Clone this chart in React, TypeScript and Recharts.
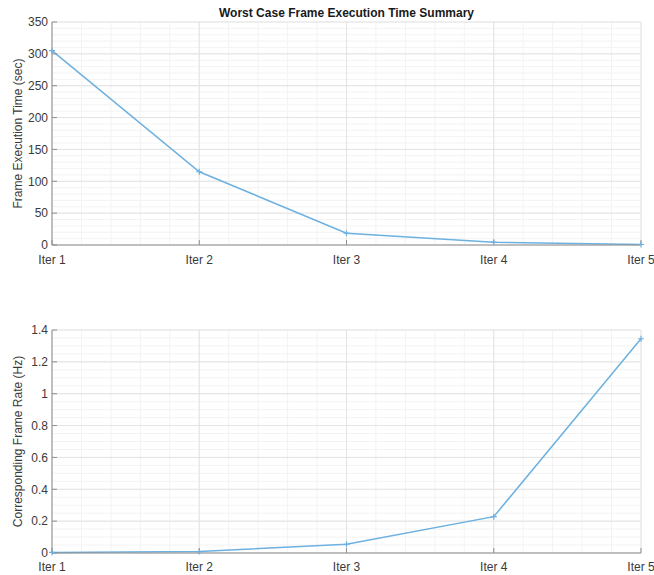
import { LineChart, Line, XAxis, YAxis, CartesianGrid } from 'recharts';

const iterations = [1, 2, 3, 4, 5];
const iterLabels = ['Iter 1', 'Iter 2', 'Iter 3', 'Iter 4', 'Iter 5'];
const execTime = [305, 115, 18.5, 4.4, 0.75];
const frameRate = [0.0033, 0.0087, 0.055, 0.228, 1.345];

const timeTicks = [0, 50, 100, 150, 200, 250, 300, 350];
const rateTicks = [0, 0.2, 0.4, 0.6, 0.8, 1, 1.2, 1.4];

const timeData = iterations.map((it, i) => ({ it, value: execTime[i] }));
const rateData = iterations.map((it, i) => ({ it, value: frameRate[i] }));

// minor grid positions
const xMinor: number[] = [];
for (let k = 0; k <= 20; k++) xMinor.push(1 + k * 0.2);
const timeMinor: number[] = [];
for (let k = 0; k <= 35; k++) timeMinor.push(k * 10);
const rateMinor: number[] = [];
for (let k = 0; k <= 28; k++) rateMinor.push(Math.round(k * 0.05 * 100) / 100);

const LINE = '#6db1e0';
const AXIS = '#8f8f8f';
const FONT = '"Liberation Sans", Arial, sans-serif';
const tickStyle = { fill: '#3a3a3a', fontSize: 12, fontFamily: FONT };

const PlusDot = (props: any) => {
  const { cx, cy, index } = props;
  if (cx == null || cy == null) return <g key={index} />;
  return (
    <path
      key={index}
      d={`M${cx - 3},${cy}H${cx + 3}M${cx},${cy - 3}V${cy + 3}`}
      stroke={LINE}
      strokeWidth={1.2}
    />
  );
};

const Empty = () => <g />;

function Panel({
  data,
  yTicks,
  yMinor,
  yMax,
  yLabel,
  height,
  xHeight,
  xGap,
  fmt,
}: {
  data: { it: number; value: number }[];
  yTicks: number[];
  yMinor: number[];
  yMax: number;
  yLabel: string;
  height: number;
  xHeight: number;
  xGap: number;
  fmt: (v: number) => string;
}) {
  return (
    <LineChart
      width={654}
      height={height}
      data={data}
      margin={{ top: 22, right: 13, left: 0, bottom: 0 }}
    >
      <CartesianGrid
        stroke="#f3f3f3"
        verticalValues={xMinor}
        horizontalValues={yMinor}
      />
      <CartesianGrid
        stroke="#e3e3e3"
        verticalValues={iterations}
        horizontalValues={yTicks}
      />
      <XAxis
        dataKey="it"
        type="number"
        domain={[1, 5]}
        ticks={iterations}
        tickFormatter={(v) => iterLabels[v - 1]}
        height={xHeight}
        tickSize={-5}
        tickMargin={xGap}
        stroke={AXIS}
        tick={tickStyle}
        interval={0}
      />
      <XAxis
        xAxisId="top"
        orientation="top"
        dataKey="it"
        type="number"
        domain={[1, 5]}
        ticks={iterations}
        height={0}
        tickSize={-5}
        stroke={AXIS}
        tick={Empty}
      />
      <YAxis
        type="number"
        domain={[0, yMax]}
        ticks={yTicks}
        tickFormatter={fmt}
        width={52}
        tickSize={-5}
        tickMargin={9}
        stroke={AXIS}
        tick={tickStyle}
        interval={0}
        label={{
          value: yLabel,
          angle: -90,
          position: 'insideLeft',
          offset: 18,
          style: { textAnchor: 'middle', fill: '#3a3a3a', fontSize: 12, fontFamily: FONT },
        }}
      />
      <YAxis
        yAxisId="right"
        orientation="right"
        type="number"
        domain={[0, yMax]}
        ticks={yTicks}
        width={0}
        tickSize={-5}
        stroke={AXIS}
        tick={Empty}
      />
      <Line
        dataKey="value"
        stroke={LINE}
        strokeWidth={1.5}
        dot={PlusDot}
        activeDot={false}
        isAnimationActive={false}
      />
    </LineChart>
  );
}

export default function App() {
  return (
    <div
      style={{
        position: 'absolute',
        left: 0,
        top: 0,
        width: 654,
        height: 575,
        background: '#fff',
        fontFamily: FONT,
        overflow: 'hidden',
      }}
    >
      <div
        style={{
          position: 'absolute',
          top: 6,
          left: 52,
          width: 589,
          textAlign: 'center',
          fontWeight: 'bold',
          fontSize: 12,
          color: '#1a1a1a',
        }}
      >
        Worst Case Frame Execution Time Summary
      </div>
      <div style={{ position: 'absolute', top: 0, left: 0 }}>
        <Panel
          data={timeData}
          yTicks={timeTicks}
          yMinor={timeMinor}
          yMax={350}
          yLabel="Frame Execution Time (sec)"
          height={275}
          xHeight={30}
          xGap={15}
          fmt={(v) => String(v)}
        />
      </div>
      <div style={{ position: 'absolute', top: 308, left: 0 }}>
        <Panel
          data={rateData}
          yTicks={rateTicks}
          yMinor={rateMinor}
          yMax={1.4}
          yLabel="Corresponding Frame Rate (Hz)"
          height={267}
          xHeight={22}
          xGap={14}
          fmt={(v) => String(Math.round(v * 10) / 10)}
        />
      </div>
    </div>
  );
}
